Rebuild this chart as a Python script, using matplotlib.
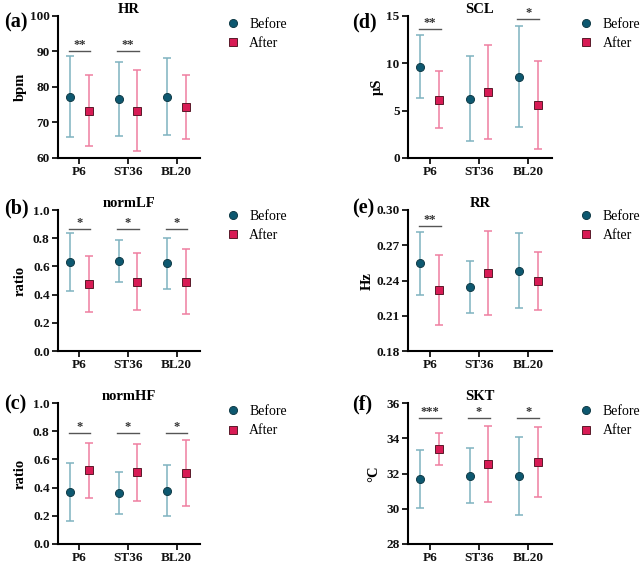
import matplotlib
matplotlib.use("Agg")
import matplotlib.pyplot as plt
import numpy as np

plt.rcParams['font.family'] = ['Liberation Serif', 'DejaVu Serif']

# ---- data ----
sites = ['P6', 'ST36', 'BL20']

hr_before = [77.2, 76.5, 77.2]
hr_before_lo = [66.0, 66.2, 66.4]
hr_before_hi = [88.5, 87.0, 88.0]
hr_after = [73.2, 73.3, 74.3]
hr_after_lo = [63.3, 62.1, 65.3]
hr_after_hi = [83.2, 84.6, 83.3]
hr_sig = ['**', '**', '']
hr_sig_y = [90, 90, 90]

lf_before = [0.631, 0.638, 0.622]
lf_before_lo = [0.428, 0.487, 0.440]
lf_before_hi = [0.835, 0.787, 0.801]
lf_after = [0.475, 0.487, 0.492]
lf_after_lo = [0.277, 0.288, 0.260]
lf_after_hi = [0.671, 0.693, 0.726]
lf_sig = ['*', '*', '*']
lf_sig_y = [0.865, 0.865, 0.865]

hf_before = [0.369, 0.360, 0.379]
hf_before_lo = [0.165, 0.212, 0.200]
hf_before_hi = [0.572, 0.513, 0.560]
hf_after = [0.522, 0.511, 0.504]
hf_after_lo = [0.327, 0.308, 0.271]
hf_after_hi = [0.718, 0.711, 0.739]
hf_sig = ['*', '*', '*']
hf_sig_y = [0.784, 0.784, 0.784]

scl_before = [9.63, 6.22, 8.57]
scl_before_lo = [6.36, 1.83, 3.27]
scl_before_hi = [12.96, 10.71, 13.88]
scl_after = [6.15, 6.92, 5.62]
scl_after_lo = [3.13, 1.97, 0.98]
scl_after_hi = [9.20, 11.94, 10.22]
scl_sig = ['**', '', '*']
scl_sig_y = [13.6, 13.6, 14.65]

rr_before = [0.2548, 0.2343, 0.2483]
rr_before_lo = [0.2280, 0.2125, 0.2167]
rr_before_hi = [0.2816, 0.2568, 0.2802]
rr_after = [0.2320, 0.2464, 0.2396]
rr_after_lo = [0.2020, 0.2108, 0.2153]
rr_after_hi = [0.2619, 0.2819, 0.2641]
rr_sig = ['**', '', '']
rr_sig_y = [0.2864, 0.2864, 0.2864]

skt_before = [31.68, 31.87, 31.84]
skt_before_lo = [30.07, 30.33, 29.63]
skt_before_hi = [33.32, 33.45, 34.08]
skt_after = [33.41, 32.54, 32.65]
skt_after_lo = [32.50, 30.39, 30.66]
skt_after_hi = [34.30, 34.69, 34.65]
skt_sig = ['***', '*', '*']
skt_sig_y = [35.13, 35.13, 35.13]

BEFORE_DOT = '#0d5870'
BEFORE_BAR = '#7fb3c0'
AFTER_DOT = '#d81b55'
AFTER_BAR = '#ef7fa0'

fig = plt.figure(figsize=(6.43, 5.71), dpi=100)
W, H = 643.0, 571.0


def make_ax(left, top, right, bottom):
    return fig.add_axes([left / W, 1 - bottom / H, (right - left) / W, (bottom - top) / H])


def panel(ax, title, tag, tag_xy, ylabel, ylab_x, yticks, fmt,
          before, b_lo, b_hi, after, a_lo, a_hi, sig, sig_y, leg_x, leg_y):
    x = np.arange(len(sites))
    off = 0.19
    b = np.array(before); a = np.array(after)
    ax.errorbar(x - off, b, yerr=[b - np.array(b_lo), np.array(b_hi) - b],
                fmt='none', ecolor=BEFORE_BAR, elinewidth=1.1, capsize=3.2, capthick=1.1)
    ax.errorbar(x + off, a, yerr=[a - np.array(a_lo), np.array(a_hi) - a],
                fmt='none', ecolor=AFTER_BAR, elinewidth=1.1, capsize=3.2, capthick=1.1)
    ax.plot(x - off, b, 'o', ms=5.8, color=BEFORE_DOT, mec='#123c48', mew=0.7,
            ls='none', label='Before', zorder=3)
    ax.plot(x + off, a, 's', ms=5.6, color=AFTER_DOT, mec='#5a1a2a', mew=0.7,
            ls='none', label='After', zorder=3)

    # significance brackets
    for i, s in enumerate(sig):
        if s:
            ax.plot([x[i] - off - 0.03, x[i] + off + 0.03], [sig_y[i], sig_y[i]],
                    color='#555555', lw=1.0, clip_on=False)
            ax.text(x[i], sig_y[i], s, ha='center', va='bottom', fontsize=9,
                    fontweight='bold', color='#333333')

    ax.set_xlim(-0.44, 2.48)
    ax.set_ylim(yticks[0], yticks[-1])
    ax.set_xticks(x)
    ax.set_xticklabels(sites, fontsize=9.5, fontweight='bold')
    ax.set_yticks(yticks)
    ax.set_yticklabels([fmt.format(t) for t in yticks], fontsize=9.5, fontweight='bold')
    for sp in ['top', 'right']:
        ax.spines[sp].set_visible(False)
    for sp in ['left', 'bottom']:
        ax.spines[sp].set_linewidth(1.5)
    ax.tick_params(width=1.3, length=4, pad=2, colors='#111111')

    ax.set_title(title, fontsize=10.5, fontweight='bold', pad=2)
    ax.set_ylabel(ylabel, fontsize=10.5, fontweight='bold')
    ax.yaxis.set_label_coords(ylab_x, 0.5)
    fig.text(tag_xy[0] / W, 1 - tag_xy[1] / H, tag, fontsize=14.5, fontweight='bold',
             ha='left', va='center')

    ax.legend(loc='upper left', bbox_to_anchor=(leg_x, leg_y), frameon=False,
              fontsize=10, handlelength=1.0, handletextpad=0.7, labelspacing=0.45,
              borderpad=0, borderaxespad=0, numpoints=1)


ax_a = make_ax(58, 15.5, 200, 158)
ax_b = make_ax(58, 210, 200, 351)
ax_c = make_ax(58, 403, 200, 544)
ax_d = make_ax(408, 15.5, 552, 158)
ax_e = make_ax(408, 210, 552, 351)
ax_f = make_ax(408, 403, 552, 544)

panel(ax_a, 'HR', '(a)', (4, 22), 'bpm', -0.22, [60, 70, 80, 90, 100], '{:.0f}',
      hr_before, hr_before_lo, hr_before_hi, hr_after, hr_after_lo, hr_after_hi,
      hr_sig, hr_sig_y, 1.18, 0.985)
panel(ax_b, 'normLF', '(b)', (4, 208), 'ratio', -0.22, [0, 0.2, 0.4, 0.6, 0.8, 1.0], '{:.1f}',
      lf_before, lf_before_lo, lf_before_hi, lf_after, lf_after_lo, lf_after_hi,
      lf_sig, lf_sig_y, 1.18, 1.0)
panel(ax_c, 'normHF', '(c)', (4, 404), 'ratio', -0.22, [0, 0.2, 0.4, 0.6, 0.8, 1.0], '{:.1f}',
      hf_before, hf_before_lo, hf_before_hi, hf_after, hf_after_lo, hf_after_hi,
      hf_sig, hf_sig_y, 1.18, 0.985)
panel(ax_d, 'SCL', '(d)', (352, 22), '\u03bcS', -0.17, [0, 5, 10, 15], '{:.0f}',
      scl_before, scl_before_lo, scl_before_hi, scl_after, scl_after_lo, scl_after_hi,
      scl_sig, scl_sig_y, 1.19, 0.985)
panel(ax_e, 'RR', '(e)', (352, 208), 'Hz', -0.24, [0.18, 0.21, 0.24, 0.27, 0.30], '{:.2f}',
      rr_before, rr_before_lo, rr_before_hi, rr_after, rr_after_lo, rr_after_hi,
      rr_sig, rr_sig_y, 1.19, 1.0)
panel(ax_f, 'SKT', '(f)', (352, 404), '\u00b0C', -0.19, [28, 30, 32, 34, 36], '{:.0f}',
      skt_before, skt_before_lo, skt_before_hi, skt_after, skt_after_lo, skt_after_hi,
      skt_sig, skt_sig_y, 1.19, 0.985)

fig.savefig('out.png', dpi=100)
